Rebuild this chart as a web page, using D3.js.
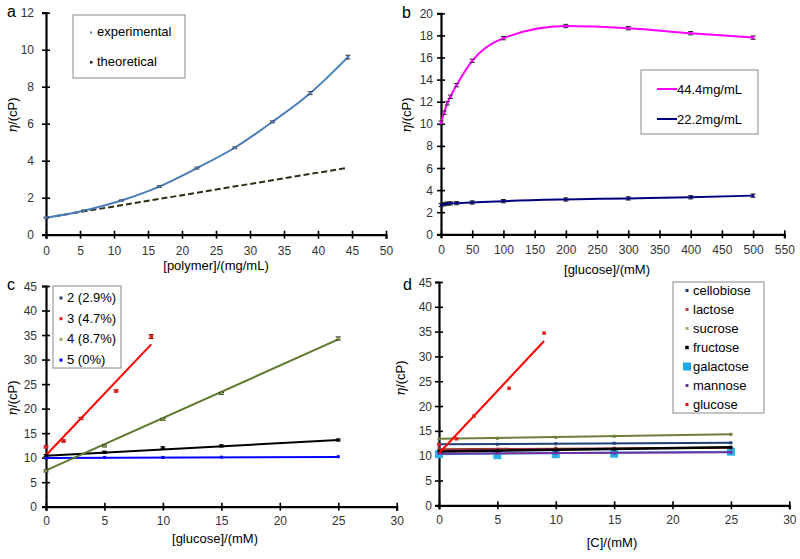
<!DOCTYPE html>
<html><head><meta charset="utf-8">
<script src="https://cdn.jsdelivr.net/npm/d3@7"></script>
<style>
body{margin:0;background:#fff;}
text{font-family:"Liberation Sans",Arial,sans-serif;}
</style></head>
<body><svg id="c" width="800" height="559"></svg>
<script>
// ---------- DATA ----------
// Panel a
const aX = [0, 5.55, 11.1, 16.65, 22.2, 27.75, 33.3, 38.85, 44.4];
const aExp = [0.92, 1.3, 1.85, 2.6, 3.6, 4.7, 6.1, 7.65, 9.6];
const aErr = [0.03, 0.03, 0.03, 0.05, 0.05, 0.05, 0.05, 0.08, 0.1];
const aTheoX = [0, 44.4];
const aTheo = [0.92, 3.62];
const aXTicks = [0,5,10,15,20,25,30,35,40,45,50];
const aYTicks = [0,2,4,6,8,10,12];
// Panel b
const bX = [0, 5, 10, 15, 25, 50, 100, 200, 300, 400, 500];
const b44 = [10.1, 11.0, 11.85, 12.45, 13.5, 15.7, 17.75, 18.85, 18.65, 18.2, 17.8];
const b22 = [2.65, 2.72, 2.78, 2.8, 2.82, 2.88, 3.0, 3.15, 3.25, 3.35, 3.5];
const bErr = [0.15, 0.15, 0.15, 0.15, 0.15, 0.15, 0.15, 0.15, 0.15, 0.15, 0.15];
const bXTicks = [0,50,100,150,200,250,300,350,400,450,500,550];
const bYTicks = [0,2,4,6,8,10,12,14,16,18,20];
// Panel c
const cX = [0, 5, 10, 15, 25];
const cRedX = [0, 1.5, 3, 6, 9];
const c2 = [10.4, 11.1, 12.0, 12.4, 13.6];
const c3 = [12.2, 13.4, 18.0, 23.6, 34.7];
const c4 = [7.3, 12.4, 17.8, 23.1, 34.3];
const c5 = [9.9, 10.05, 10.05, 10.1, 10.2];
const cTrend2 = [10.4, 13.6];
const cTrend3 = [10.5, 33.1];
const cTrend4 = [7.4, 34.1];
const cTrend5 = [9.95, 10.15];
const cXTicks = [0,5,10,15,20,25,30];
const cYTicks = [0,5,10,15,20,25,30,35,40,45];
// Panel d
const dX = [0, 5, 10, 15, 25];
const dCellobiose = [12.4, 12.3, 12.4, 12.5, 12.6];
const dLactose = [11.4, 11.3, 11.5, 11.5, 11.6];
const dSucrose = [13.4, 13.5, 13.7, 13.9, 14.3];
const dFructose = [10.9, 11.0, 11.1, 11.3, 11.7];
const dGalactose = [10.3, 10.1, 10.3, 10.4, 10.8];
const dMannose = [10.5, 10.5, 10.5, 10.5, 10.7];
const dGlucoseX = [0, 1.5, 3, 6, 9];
const dGlucose = [12.2, 13.4, 18.0, 23.6, 34.7];
const dTrends = {cellobiose:[12.3,12.6], lactose:[11.3,11.6], sucrose:[13.4,14.3], fructose:[10.85,11.7], galactose:[10.3,10.8], mannose:[10.4,10.7], glucose:[10.5,33.1]};
const dNames = ["cellobiose","lactose","sucrose","fructose","galactose","mannose","glucose"];

// ---------- DRAW ----------
const svg = d3.select("#c");

function panel(o){
  const x = d3.scaleLinear().domain(o.xd).range([o.l, o.r]);
  const y = d3.scaleLinear().domain(o.yd).range([o.b, o.t]);
  const g = svg.append("g");
  const xa = g.append("g").attr("transform",`translate(0,${o.b})`)
    .call(d3.axisBottom(x).tickValues(o.xt).tickSizeOuter(0).tickSize(4));
  xa.select(".domain").attr("stroke","#000").attr("stroke-width",2.2);
  xa.selectAll(".tick line").attr("y1",-4).attr("y2",4).attr("stroke","#000").attr("stroke-width",1.6);
  xa.selectAll(".tick text").attr("y",o.xly).attr("dy",0).attr("font-size",12).attr("fill","#333");
  const ya = g.append("g").attr("transform",`translate(${o.l},0)`)
    .call(d3.axisLeft(y).tickValues(o.yt).tickSizeOuter(0).tickSize(4));
  ya.select(".domain").attr("stroke","#000").attr("stroke-width",2.2);
  ya.selectAll(".tick line").attr("x1",-4).attr("x2",4).attr("stroke","#000").attr("stroke-width",1.6);
  ya.selectAll(".tick text").attr("x",-o.ylx).attr("dy","0.34em").attr("font-size",12).attr("fill","#333");
  g.append("text").attr("x",o.lab[0]).attr("y",o.lab[1]).attr("font-size",16).text(o.letter);
  const yt = g.append("text").attr("transform",`translate(${o.yl[0]},${o.yl[1]}) rotate(-90)`)
    .attr("text-anchor","middle").attr("font-size",13);
  yt.append("tspan").attr("font-style","italic").attr("font-family","'DejaVu Serif',serif").text("η");
  yt.append("tspan").text("/(cP)");
  g.append("text").attr("x",o.xl[0]).attr("y",o.xl[1]).attr("text-anchor","middle").attr("font-size",13).text(o.xtitle);
  return {x,y,g};
}

function errbars(p, xs, ys, es, color){
  xs.forEach((xv,i)=>{
    const cx = p.x(xv), y1 = p.y(ys[i]-es[i]), y2 = p.y(ys[i]+es[i]);
    p.g.append("line").attr("x1",cx).attr("x2",cx).attr("y1",y1).attr("y2",y2).attr("stroke",color).attr("stroke-width",1);
    [y1,y2].forEach(yy=>p.g.append("line").attr("x1",cx-2.5).attr("x2",cx+2.5).attr("y1",yy).attr("y2",yy).attr("stroke",color).attr("stroke-width",1));
  });
}
function markers(p, xs, ys, color, size){
  xs.forEach((xv,i)=>p.g.append("rect").attr("x",p.x(xv)-size/2).attr("y",p.y(ys[i])-size/2)
    .attr("width",size).attr("height",size).attr("fill",color));
}
function trend(p, x0, x1, v, color, w){
  p.g.append("line").attr("x1",p.x(x0)).attr("x2",p.x(x1)).attr("y1",p.y(v[0])).attr("y2",p.y(v[1]))
    .attr("stroke",color).attr("stroke-width",w||2);
}
function legendBox(g, x0,y0,x1,y1){
  g.append("rect").attr("x",x0).attr("y",y0).attr("width",x1-x0).attr("height",y1-y0)
    .attr("fill","#fff").attr("stroke","#8a8a8a").attr("stroke-width",1);
}

// ----- Panel a -----
const pa = panel({xd:[0,50], yd:[0,12], l:46, r:386, t:12.7, b:234.7, xt:aXTicks, yt:aYTicks,
  xly:20, ylx:12, letter:"a", lab:[7,17], yl:[17,115], xl:[216,270], xtitle:"[polymer]/(mg/mL)"});
const cA = "#4a7ebb";
pa.g.append("path").datum(aTheoX.map((v,i)=>[v,aTheo[i]]))
  .attr("d",d3.line().x(d=>pa.x(d[0])).y(d=>pa.y(d[1])))
  .attr("fill","none").attr("stroke","#2e2e14").attr("stroke-width",2).attr("stroke-dasharray","6,3");
pa.g.append("path").datum(aX.map((v,i)=>[v,aExp[i]]))
  .attr("d",d3.line().curve(d3.curveCatmullRom).x(d=>pa.x(d[0])).y(d=>pa.y(d[1])))
  .attr("fill","none").attr("stroke",cA).attr("stroke-width",2);
errbars(pa, aX, aExp, aErr, "#333");
markers(pa, aX, aExp, cA, 2.5);
legendBox(pa.g, 73,15,185,78);
pa.g.append("rect").attr("x",90).attr("y",31.5).attr("width",2).attr("height",2).attr("fill",cA);
pa.g.append("rect").attr("x",90).attr("y",61).attr("width",2.5).attr("height",2.5).attr("fill","#222");
pa.g.append("text").attr("x",97).attr("y",36).attr("font-size",13).text("experimental");
pa.g.append("text").attr("x",97).attr("y",66).attr("font-size",13).text("theoretical");

// ----- Panel b -----
const pb = panel({xd:[0,550], yd:[0,20], l:441, r:784.3, t:13.3, b:234.3, xt:bXTicks, yt:bYTicks,
  xly:20, ylx:8, letter:"b", lab:[402,18], yl:[411,115], xl:[607,274], xtitle:"[glucose]/(mM)"});
[[b44,"#ff00ff"],[b22,"#000080"]].forEach(([vals,col])=>{
  pb.g.append("path").datum(bX.map((v,i)=>[v,vals[i]]))
    .attr("d",d3.line().curve(d3.curveMonotoneX).x(d=>pb.x(d[0])).y(d=>pb.y(d[1])))
    .attr("fill","none").attr("stroke",col).attr("stroke-width",2);
  errbars(pb, bX, vals, bErr, "#222");
  markers(pb, bX, vals, col, 2.5);
});
legendBox(pb.g, 641,70,758,134);
pb.g.append("line").attr("x1",657).attr("x2",677).attr("y1",89).attr("y2",89).attr("stroke","#ff00ff").attr("stroke-width",2);
pb.g.append("line").attr("x1",657).attr("x2",677).attr("y1",119).attr("y2",119).attr("stroke","#000080").attr("stroke-width",2);
pb.g.append("text").attr("x",677).attr("y",94).attr("font-size",13).text("44.4mg/mL");
pb.g.append("text").attr("x",677).attr("y",124).attr("font-size",13).text("22.2mg/mL");

// ----- Panel c -----
const pc = panel({xd:[0,30], yd:[0,45], l:46, r:396.7, t:286, b:506.7, xt:cXTicks, yt:cYTicks,
  xly:18.5, ylx:9, letter:"c", lab:[7,290], yl:[17,398], xl:[215,543], xtitle:"[glucose]/(mM)"});
const cCols = {k2:"#000000", k3:"#ff0000", k4:"#5e7a2e", k5:"#0000ff"};
trend(pc, 0, 25, cTrend5, cCols.k5);
trend(pc, 0, 25, cTrend2, cCols.k2);
trend(pc, 0, 25, cTrend4, cCols.k4);
trend(pc, 0, 9, cTrend3, cCols.k3);
errbars(pc, cX, c2, [0.2,0.2,0.2,0.2,0.2], "#000"); markers(pc, cX, c2, cCols.k2, 3);
errbars(pc, cX, c4, [0.2,0.2,0.2,0.2,0.3], "#000"); markers(pc, cX, c4, "#7a8f40", 3);
markers(pc, cX, c5, cCols.k5, 3);
errbars(pc, cRedX, c3, [0.2,0.2,0.2,0.2,0.4], "#800"); markers(pc, cRedX, c3, "#e02020", 3.5);
legendBox(pc.g, 53,286,121,368);
const cLeg = [["2 (2.9%)","#2a3f6a"],["3 (4.7%)","#e02020"],["4 (8.7%)","#9aaa60"],["5 (0%)","#0000ff"]];
cLeg.forEach((d,i)=>{
  const yb = 302 + i*20.7;
  pc.g.append("rect").attr("x",59.5).attr("y",yb-5.5).attr("width",3).attr("height",3).attr("fill",d[1]);
  pc.g.append("text").attr("x",67).attr("y",yb).attr("font-size",13).text(d[0]);
});

// ----- Panel d -----
const pd = panel({xd:[0,30], yd:[0,45], l:439, r:789.3, t:282, b:505.3, xt:cXTicks, yt:cYTicks,
  xly:19, ylx:7, letter:"d", lab:[403,290], yl:[405,378], xl:[612,547], xtitle:"[C]/(mM)"});
const dCols = {cellobiose:"#1f3f7a", lactose:"#993333", sucrose:"#6b7f3a", fructose:"#000000",
  galactose:"#2ab0e8", mannose:"#7030a0", glucose:"#ff0000"};
const dLegCols = {cellobiose:"#1f3f7a", lactose:"#b04040", sucrose:"#a0ae70", fructose:"#000000",
  galactose:"#1ea8e8", mannose:"#7030a0", glucose:"#ff0000"};
const dVals = {cellobiose:dCellobiose, lactose:dLactose, sucrose:dSucrose, fructose:dFructose,
  galactose:dGalactose, mannose:dMannose, glucose:dGlucose};
markers(pd, dX, dGalactose, dCols.galactose, 8);
["galactose","sucrose","cellobiose","lactose","mannose","fructose"].forEach(n=>{
  trend(pd, 0, 25, dTrends[n], dCols[n], n==="fructose"?2.5:2);
  if(n!=="galactose") markers(pd, dX, dVals[n], dCols[n], 3);
});
trend(pd, 0, 9, dTrends.glucose, dCols.glucose);
markers(pd, dGlucoseX, dGlucose, "#e02020", 3.5);
legendBox(pd.g, 673,282,764,413);
dNames.forEach((n,i)=>{
  const yb = 295 + i*19;
  const s = n==="galactose" ? 8 : (n==="fructose" ? 3.5 : 3);
  pd.g.append("rect").attr("x",687-s/2).attr("y",yb-4.5-s/2).attr("width",s).attr("height",s).attr("fill",dLegCols[n]);
  pd.g.append("text").attr("x",693).attr("y",yb).attr("font-size",13).text(n);
});
</script></body></html>
